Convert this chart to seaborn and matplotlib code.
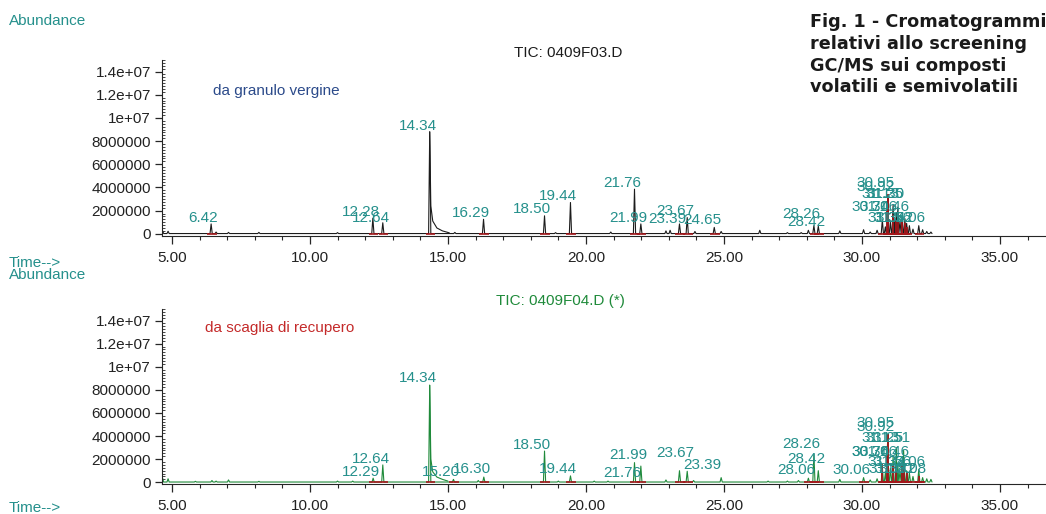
import matplotlib.pyplot as plt
import matplotlib.ticker as mticker
import seaborn as sns
import pandas as pd

# --- cromatogramma 1: da granulo vergine (TIC: 0409F03.D) ---
# picchi: tempo di ritenzione [min] e abbondanza all'apice
top_rt = [4.66, 4.86, 6.42, 6.60, 7.05, 8.15, 11.00, 12.28, 12.64, 14.34, 15.25,
          16.29, 18.50, 18.90, 19.44, 20.90, 21.76, 21.99, 22.90, 23.05, 23.39,
          23.67, 23.95, 24.65, 24.90, 26.30, 27.30, 27.80, 28.06, 28.26, 28.42,
          29.20, 30.06, 30.30, 30.55, 30.74, 30.85, 30.92, 30.95, 31.03, 31.13,
          31.20, 31.25, 31.30, 31.38, 31.46, 31.56, 31.62, 31.72, 31.85, 32.06,
          32.20, 32.35, 32.50]
top_abund = [0.25e6, 0.22e6, 0.85e6, 0.15e6, 0.12e6, 0.12e6, 0.10e6, 1.35e6, 0.95e6,
             8.8e6, 0.12e6, 1.25e6, 1.55e6, 0.10e6, 2.7e6, 0.15e6, 3.85e6, 0.85e6,
             0.25e6, 0.30e6, 0.85e6, 1.4e6, 0.20e6, 0.55e6, 0.20e6, 0.30e6, 0.10e6,
             0.10e6, 0.30e6, 0.70e6, 0.65e6, 0.25e6, 0.35e6, 0.15e6, 0.30e6, 1.2e6,
             0.6e6, 2.6e6, 3.3e6, 1.0e6, 2.5e6, 1.2e6, 1.8e6, 2.3e6, 1.1e6, 1.5e6,
             1.3e6, 0.9e6, 0.7e6, 0.4e6, 0.7e6, 0.35e6, 0.20e6, 0.15e6]
top_tail_rt = [14.34, 14.38, 14.45, 14.60, 14.80, 15.05]
top_tail_abund = [8.8e6, 2.4e6, 1.1e6, 0.5e6, 0.25e6, 0.08e6]
top_label_rt = [6.42, 12.28, 12.64, 14.34, 16.29, 18.50, 19.44, 21.76, 21.99, 23.67,
                23.39, 24.65, 28.26, 28.42, 30.95, 30.92, 31.13, 31.25, 31.30, 30.74,
                31.06, 31.46, 31.34, 31.56, 31.62, 32.06]
top_label_y = [1.4e6, 1.9e6, 1.4e6, 9.3e6, 1.8e6, 2.1e6, 3.3e6, 4.4e6, 1.35e6, 2.0e6,
               1.25e6, 1.2e6, 1.7e6, 1.05e6, 4.35e6, 4.05e6, 3.4e6, 3.4e6, 3.4e6, 2.3e6,
               2.3e6, 2.3e6, 1.4e6, 1.4e6, 1.4e6, 1.4e6]
top_red_rt = [30.92, 30.95, 31.13, 31.25, 31.30, 31.46, 31.56, 31.62]
top_red_abund = [2.4e6, 3.4e6, 1.6e6, 1.2e6, 1.5e6, 1.1e6, 0.9e6, 0.6e6]

# --- cromatogramma 2: da scaglia di recupero (TIC: 0409F04.D) ---
bot_rt = [4.66, 4.86, 5.85, 6.45, 6.60, 7.05, 8.15, 11.00, 11.55, 12.29, 12.64,
          14.34, 15.20, 16.10, 16.30, 18.50, 19.00, 19.44, 20.30, 20.80, 21.76,
          21.99, 22.90, 23.39, 23.67, 23.90, 24.90, 26.60, 27.30, 27.70, 28.06,
          28.26, 28.42, 29.20, 30.06, 30.30, 30.55, 30.74, 30.85, 30.92, 30.95,
          31.03, 31.13, 31.25, 31.30, 31.38, 31.46, 31.51, 31.62, 31.72, 31.85,
          32.06, 32.20, 32.35, 32.50]
bot_abund = [0.35e6, 0.30e6, 0.08e6, 0.15e6, 0.10e6, 0.20e6, 0.08e6, 0.10e6, 0.10e6,
             0.35e6, 1.5e6, 8.4e6, 0.25e6, 0.15e6, 0.45e6, 2.7e6, 0.10e6, 0.55e6,
             0.10e6, 0.10e6, 1.7e6, 1.4e6, 0.20e6, 1.0e6, 0.95e6, 0.15e6, 0.40e6,
             0.10e6, 0.10e6, 0.15e6, 0.35e6, 2.4e6, 1.0e6, 0.25e6, 0.40e6, 0.20e6,
             0.30e6, 1.3e6, 0.8e6, 3.0e6, 4.2e6, 1.2e6, 2.2e6, 3.0e6, 1.5e6, 1.0e6,
             1.6e6, 2.8e6, 1.0e6, 0.8e6, 0.5e6, 1.1e6, 0.40e6, 0.30e6, 0.25e6]
bot_tail_rt = [14.34, 14.38, 14.45, 14.60, 14.80, 15.00]
bot_tail_abund = [8.4e6, 2.0e6, 0.9e6, 0.45e6, 0.25e6, 0.10e6]
bot_label_rt = [12.29, 12.64, 14.34, 15.20, 16.30, 18.50, 19.44, 21.99, 21.76, 23.67,
                23.39, 28.06, 28.26, 28.42, 30.06, 30.95, 30.92, 31.13, 31.25, 31.51,
                30.74, 30.76, 31.06, 31.46, 31.34, 31.56, 32.06, 31.38, 31.60, 31.72,
                32.08]
bot_label_y = [0.9e6, 2.0e6, 9.0e6, 0.9e6, 1.15e6, 3.2e6, 1.15e6, 2.4e6, 0.83e6, 2.55e6,
               1.5e6, 1.05e6, 3.3e6, 2.0e6, 1.05e6, 5.1e6, 4.8e6, 3.8e6, 3.8e6, 3.8e6,
               2.6e6, 2.6e6, 2.6e6, 2.6e6, 1.75e6, 1.75e6, 1.75e6, 1.15e6, 1.15e6, 1.15e6,
               1.15e6]
bot_label_side = ['r'] * 10 + ['l'] + ['r'] * 20
bot_red_rt = [30.74, 30.92, 30.95, 31.13, 31.25, 31.46, 31.51, 31.62, 32.06]
bot_red_abund = [1.6e6, 3.0e6, 4.2e6, 1.5e6, 1.3e6, 1.4e6, 1.2e6, 0.8e6, 0.5e6]

y_ticks = [0, 2e6, 4e6, 6e6, 8e6, 10e6, 12e6, 14e6]
y_tick_labels = ['0', '2000000', '4000000', '6000000', '8000000', '1e+07', '1.2e+07', '1.4e+07']

TEAL = '#25908c'
RED = '#a3161a'

sns.set_style('ticks')
plt.rcParams['font.family'] = ['Liberation Sans', 'DejaVu Sans']
plt.rcParams['font.size'] = 11


def build_trace(rt, abund, w=0.04, base=2e4):
    """Ogni picco diventa un triangolo stretto (piede - apice - piede)."""
    rows = []
    for t, h in zip(rt, abund):
        rows += [(t - w, base), (t, h), (t + w, base)]
    df = pd.DataFrame(rows, columns=['time', 'abundance'])
    return df.sort_values('time', kind='stable')


def draw_panel(ax, rt, abund, tail_rt, tail_abund, lab_rt, lab_y, red_rt, red_abund,
               color, sides=None):
    trace = build_trace(rt, abund)
    sns.lineplot(data=trace, x='time', y='abundance', ax=ax, color=color,
                 linewidth=0.8, estimator=None, sort=False)
    sns.lineplot(x=tail_rt, y=tail_abund, ax=ax, color=color, linewidth=0.8,
                 estimator=None, sort=False)
    # linee di base dell'integrazione (rosse)
    for t in lab_rt:
        ax.hlines(0, t - 0.15, t + 0.2, color=RED, linewidth=1.2, zorder=3)
    ax.vlines(red_rt, 0, red_abund, color=RED, linewidth=1.3, zorder=3)
    if sides is None:
        sides = ['r'] * len(lab_rt)
    for t, y, s in zip(lab_rt, lab_y, sides):
        if s == 'r':
            ax.text(t + 0.25, y, f'{t:.2f}', ha='right', va='center', color=TEAL, fontsize=11)
        else:
            ax.text(t + 0.15, y, f'{t:.2f}', ha='left', va='center', color=TEAL, fontsize=11)

    ax.set_xlim(4.64, 36.67)
    ax.set_ylim(-0.15e6, 1.5e7)
    ax.xaxis.set_major_locator(mticker.MultipleLocator(5))
    ax.xaxis.set_minor_locator(mticker.MultipleLocator(1))
    ax.xaxis.set_major_formatter(mticker.FormatStrFormatter('%.2f'))
    ax.set_yticks(y_ticks)
    ax.set_yticklabels(y_tick_labels)
    ax.yaxis.set_minor_locator(mticker.MultipleLocator(0.25e6))
    ax.tick_params(axis='x', which='major', direction='out', length=6, width=0.9, pad=5)
    ax.tick_params(axis='x', which='minor', direction='out', length=3, width=0.8)
    ax.tick_params(axis='y', which='major', direction='out', length=5, width=0.9, pad=3)
    ax.tick_params(axis='y', which='minor', direction='in', length=2, width=0.6)
    ax.tick_params(labelsize=11, labelcolor='#222222')
    ax.set_xlabel('')
    ax.set_ylabel('')
    sns.despine(ax=ax)


fig = plt.figure(figsize=(10.46, 5.14), dpi=100)
ax_top = fig.add_axes([162 / 1046, 0.5418, 1 - 162 / 1046, 0.3415])
ax_bot = fig.add_axes([162 / 1046, 0.0584, 1 - 162 / 1046, 0.3404])

draw_panel(ax_top, top_rt, top_abund, top_tail_rt, top_tail_abund, top_label_rt,
           top_label_y, top_red_rt, top_red_abund, '#1c1c1c')
draw_panel(ax_bot, bot_rt, bot_abund, bot_tail_rt, bot_tail_abund, bot_label_rt,
           bot_label_y, bot_red_rt, bot_red_abund, '#1f8a3a', bot_label_side)

# testi in stile ChemStation
fig.text(9 / 1046, 1 - 21 / 514, 'Abundance', color=TEAL, fontsize=11, va='center')
fig.text(9 / 1046, 1 - 263 / 514, 'Time-->', color=TEAL, fontsize=11, va='center')
fig.text(9 / 1046, 1 - 275 / 514, 'Abundance', color=TEAL, fontsize=11, va='center')
fig.text(9 / 1046, 1 - 508 / 514, 'Time-->', color=TEAL, fontsize=11, va='center')

fig.text(568 / 1046, 1 - 53 / 514, 'TIC: 0409F03.D', color='#1c1c1c', fontsize=11,
         ha='center', va='center')
fig.text(560 / 1046, 1 - 301 / 514, 'TIC: 0409F04.D (*)', color='#1f8a3a', fontsize=11,
         ha='center', va='center')
fig.text(213 / 1046, 1 - 91 / 514, 'da granulo vergine', color='#2b4a8a', fontsize=11,
         va='center')
fig.text(205 / 1046, 1 - 328 / 514, 'da scaglia di recupero', color='#c42a2a', fontsize=11,
         va='center')

fig.text(810 / 1046, 1 - 13 / 514,
         'Fig. 1 - Cromatogrammi\nrelativi allo screening\nGC/MS sui composti\nvolatili e semivolatili',
         family='DejaVu Sans', fontweight='bold', fontsize=12.7, linespacing=1.27,
         ha='left', va='top', color='#1a1a1a')

fig.savefig('out.png', dpi=100)
